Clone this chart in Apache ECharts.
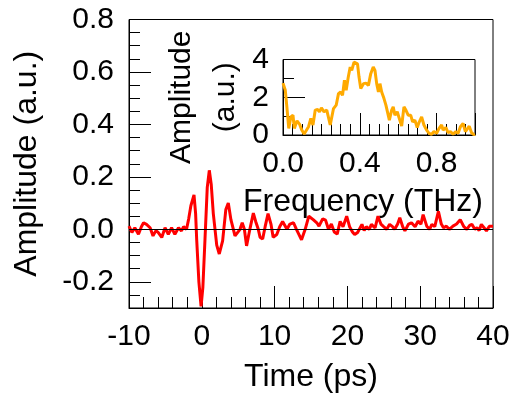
<!DOCTYPE html>
<html>
<head>
<meta charset="utf-8">
<script src="https://cdn.jsdelivr.net/npm/echarts@6/dist/echarts.min.js"></script>
<style>html,body{margin:0;padding:0;background:#fff}#c{width:523px;height:398px}</style>
</head>
<body>
<div id="c"></div>
<script>
// Time-domain signal
const timePs = [-10.0,-9.6,-9.2,-8.7,-8.3,-8.0,-7.6,-7.1,-6.7,-6.3,-6.0,-5.5,-5.05,-4.6,-4.15,-3.7,-3.2,-2.8,-2.5,-2.1,-1.8,-1.5,-1.07,-0.85,-0.7,-0.4,-0.1,0.15,0.44,0.75,1.03,1.3,1.58,2.05,2.4,2.86,3.3,3.64,4.0,4.56,5.25,5.55,5.85,6.15,6.6,7.08,7.4,7.76,8.0,8.36,8.7,9.1,9.5,9.8,10.3,10.7,11.1,11.7,12.1,12.6,13.0,13.7,14.2,14.7,15.3,15.8,16.1,16.6,17.0,17.4,17.8,18.2,18.6,19.0,19.4,19.9,20.3,20.7,21.0,21.4,22.0,22.3,22.6,23.0,23.3,23.8,24.2,24.6,24.9,25.4,25.8,26.2,26.5,26.9,27.2,27.6,27.9,28.4,28.8,29.3,29.7,30.1,30.4,30.9,31.3,31.6,32.0,32.5,32.9,33.2,33.6,34.0,34.5,35.0,35.5,36.0,36.4,36.8,37.1,37.5,37.8,38.1,38.4,38.8,39.1,39.5,40.0];
const amplitude = [0.012,-0.012,0.006,-0.019,0.01,0.025,0.019,0.006,-0.025,-0.005,-0.012,-0.031,0.006,-0.019,0.006,-0.019,0.006,-0.006,0.01,0.0,0.04,0.09,0.131,0.06,-0.04,-0.2,-0.294,-0.22,-0.037,0.16,0.225,0.17,0.06,-0.06,-0.094,-0.044,0.075,0.1,0.037,-0.025,0.0,0.025,0.0,-0.063,0.0,0.062,0.03,0.0,-0.03,-0.037,0.01,0.06,0.02,-0.03,-0.02,0.01,0.03,0.0,0.02,0.025,0.0,-0.04,0.0,0.05,0.037,0.025,0.012,0.04,0.035,0.0,0.02,-0.01,-0.018,0.03,0.01,0.05,0.01,-0.01,-0.02,-0.012,0.019,-0.005,0.01,0.0,0.019,0.005,0.05,0.02,0.012,0.0,0.019,0.01,0.0,0.02,0.044,0.01,-0.006,0.02,0.025,0.01,0.031,0.02,0.056,0.012,0.0,0.019,0.01,0.069,0.02,0.006,0.012,0.0,0.012,0.02,0.037,0.01,0.0,0.015,0.019,0.0,0.006,-0.005,0.019,0.005,-0.006,0.012,0.012];

// Spectrum (inset)
const freqTHz = [0.0,0.012,0.02,0.03,0.041,0.052,0.059,0.073,0.086,0.098,0.11,0.12,0.133,0.145,0.156,0.168,0.18,0.19,0.2,0.214,0.228,0.246,0.263,0.277,0.289,0.3,0.31,0.32,0.329,0.34,0.35,0.358,0.37,0.38,0.388,0.396,0.405,0.419,0.432,0.445,0.457,0.47,0.479,0.488,0.497,0.505,0.514,0.526,0.536,0.543,0.554,0.566,0.574,0.583,0.595,0.605,0.618,0.63,0.64,0.652,0.665,0.675,0.687,0.699,0.71,0.722,0.734,0.748,0.761,0.774,0.786,0.8,0.813,0.826,0.834,0.848,0.86,0.872,0.886,0.9,0.912,0.924,0.938,0.95,0.96,0.97,0.982,0.994,1.0];
const spectrum = [2.75,2.37,1.5,0.35,0.96,1.05,0.35,0.75,0.58,0.26,0.05,0.05,0.44,0.88,0.53,1.32,1.35,1.23,1.44,1.23,1.32,0.53,1.4,1.58,2.19,2.28,2.1,2.9,2.37,3.07,3.6,3.42,3.86,3.95,3.77,3.07,2.46,2.72,2.75,2.63,3.25,3.6,3.42,2.72,2.28,2.72,2.28,1.93,1.58,1.67,0.79,1.32,1.49,1.05,1.23,1.32,0.47,1.49,1.32,1.05,1.05,0.7,0.79,0.4,0.7,0.96,0.53,0.26,0.09,0.04,0.18,0.09,0.35,0.53,0.26,0.4,0.12,0.18,0.05,0.18,0.09,0.44,0.61,0.18,0.09,0.47,0.12,0.02,0.05];

const mainXTicks = [-10, 0, 10, 20, 30, 40];
const mainYTicks = [-0.2, 0.0, 0.2, 0.4, 0.6, 0.8];

const FONT = 'Liberation Sans, Arial, sans-serif';
const FS = 30;     // tick labels
const FN = 32;     // axis names
const AX = '#000';

const chart = echarts.init(document.getElementById('c'), null, {renderer: 'canvas'});
const near = (v, arr) => arr.some(t => Math.abs(t - v) < 1e-6);

chart.setOption({
  animation: false,
  backgroundColor: '#fff',
  grid: [
    {left: 129, top: 19.5, right: 30, bottom: 84, show: true, borderColor: AX, borderWidth: 1, backgroundColor: 'transparent'},
    {left: 283, top: 59.5, width: 192, height: 75.5, show: true, borderColor: AX, borderWidth: 1, backgroundColor: '#fff'}
  ],
  xAxis: [
    {
      gridIndex: 0, type: 'value', min: -10, max: 40, interval: 10,
      name: 'Time (ps)', nameLocation: 'middle', nameGap: 53,
      nameTextStyle: {fontFamily: FONT, fontSize: FN, color: '#000'},
      axisLine: {show: true, onZero: false, lineStyle: {color: AX, width: 1}},
      axisTick: {show: true, inside: true, length: 22, lineStyle: {color: AX}},
      minorTick: {show: true, splitNumber: 5, length: 11, lineStyle: {color: AX}},
      splitLine: {show: false},
      axisLabel: {fontFamily: FONT, fontSize: FS, color: '#000', margin: 14,
        formatter: v => near(v, mainXTicks) ? String(Math.round(v)) : ''}
    },
    {
      gridIndex: 1, type: 'value', min: 0, max: 1, interval: 0.4,
      name: 'Frequency (THz)', nameLocation: 'middle', nameGap: 51,
      nameTextStyle: {fontFamily: FONT, fontSize: FN, color: '#000', padding: [0, 32, 0, 0]},
      axisLine: {show: true, onZero: false, lineStyle: {color: AX, width: 1}},
      axisTick: {show: true, inside: true, length: 22, lineStyle: {color: AX}},
      minorTick: {show: true, splitNumber: 8, length: 11, lineStyle: {color: AX}},
      splitLine: {show: false},
      axisLabel: {fontFamily: FONT, fontSize: FS, color: '#000', margin: 14,
        formatter: v => (v < 0.95 ? v.toFixed(1) : '')}
    }
  ],
  yAxis: [
    {
      gridIndex: 0, type: 'value', min: -0.3, max: 0.8, splitNumber: 5,
      name: 'Amplitude (a.u.)', nameLocation: 'middle', nameGap: 86,
      nameTextStyle: {fontFamily: FONT, fontSize: FN, color: '#000'},
      axisLine: {show: true, onZero: false, lineStyle: {color: AX, width: 1}},
      axisTick: {show: true, inside: true, length: 22, lineStyle: {color: AX}},
      minorTick: {show: true, splitNumber: 4, length: 11, lineStyle: {color: AX}},
      splitLine: {show: false},
      axisLabel: {fontFamily: FONT, fontSize: FS, color: '#000', margin: 15,
        formatter: v => near(v, mainYTicks) ? v.toFixed(1) : ''}
    },
    {
      gridIndex: 1, type: 'value', min: 0, max: 4, interval: 2,
      name: 'Amplitude\n(a.u.)', nameLocation: 'middle', nameGap: 35,
      nameTextStyle: {fontFamily: FONT, fontSize: 30, color: '#000', lineHeight: 44},
      axisLine: {show: true, onZero: false, lineStyle: {color: AX, width: 1}},
      axisTick: {show: true, inside: true, length: 22, lineStyle: {color: AX}},
      minorTick: {show: true, splitNumber: 2, length: 11, lineStyle: {color: AX}},
      splitLine: {show: false},
      axisLabel: {fontFamily: FONT, fontSize: FS, color: '#000', margin: 14,
        formatter: v => String(Math.round(v))}
    }
  ],
  series: [
    {
      type: 'line', xAxisIndex: 0, yAxisIndex: 0,
      data: timePs.map((t, i) => [t, amplitude[i]]),
      showSymbol: false,
      lineStyle: {color: '#ff0000', width: 3},
      markLine: {
        silent: true, symbol: 'none', label: {show: false},
        lineStyle: {color: '#000', width: 1, type: 'solid'},
        data: [{yAxis: 0}], animation: false
      },
      z: 3
    },
    {
      type: 'line', xAxisIndex: 1, yAxisIndex: 1,
      data: freqTHz.map((f, i) => [f, spectrum[i]]),
      showSymbol: false,
      lineStyle: {color: '#ffaa00', width: 3},
      clip: true,
      z: 5
    }
  ]
});
</script>
</body>
</html>
